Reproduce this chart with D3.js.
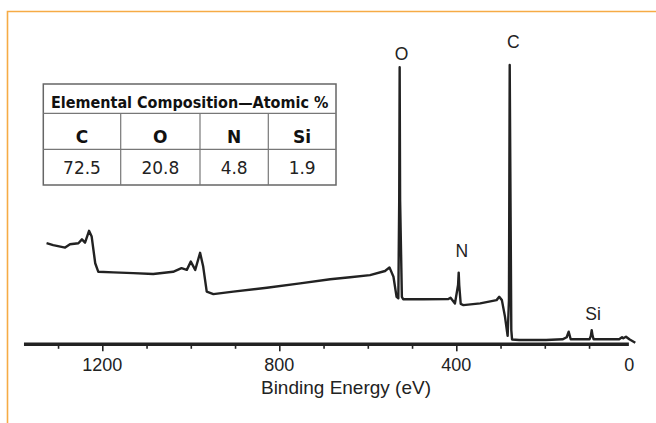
<!DOCTYPE html>
<html>
<head>
<meta charset="utf-8">
<script src="https://cdn.jsdelivr.net/npm/d3@7"></script>
<style>
  html, body { margin: 0; padding: 0; background: #fff; }
  svg { display: block; }
</style>
</head>
<body>
<svg id="chart" width="656" height="423"></svg>
<script>
// --- DATA ---
// survey spectrum (binding energy in eV, intensity in arbitrary units)
const bindingEnergy = [1326, 1311, 1284, 1273, 1254, 1246, 1239, 1230, 1224, 1216, 1209, 1175, 1130, 1085, 1040, 1021, 1009, 1000, 990, 979, 972, 964, 949, 904, 828, 753, 685, 640, 595, 561, 551, 542, 535, 531, 529, 528, 527, 523, 520, 475, 418, 413, 403, 396, 394.6, 393.4, 390, 384, 346, 309, 303, 297, 290, 284, 281, 279.3, 277.5, 275.7, 274, 258, 197, 160, 150.5, 146, 141.5, 99, 96, 94, 92, 89.5, 32, 25.5, 22.6, 16.5, 9, -4.5];
const intensity = [35.2, 34.5, 33.6, 34.8, 35.2, 36.6, 35.4, 39.7, 37.6, 27.9, 24.8, 24.6, 24.3, 24.0, 24.8, 26.1, 25.5, 28.5, 25.5, 31.7, 26.7, 17.6, 16.7, 17.6, 19.0, 20.6, 22.1, 22.8, 23.6, 25.1, 26.4, 23.0, 15.7, 15.2, 50.9, 99.2, 50.9, 15.7, 14.8, 14.8, 14.9, 15.4, 13.3, 20, 24.5, 20, 13.1, 12.7, 13.3, 14.5, 15.7, 14.5, 8.5, 1.5, 14.5, 100, 50.9, 3.6, 0.2, 0, 0, 0.25, 1.0, 3.0, 0.25, 0.25, 1.5, 3.6, 1.5, 0.25, 0.25, 1.0, 0.6, 1.2, 0.25, -1];

// peak labels
const peakNames = ["O", "C", "N", "Si"];
const peakLabelEnergy = [523.5, 271.2, 387.8, 91];
const peakLabelIntensity = [101.8, 106.1, 30.3, 7.3];

// axis
const axisExtent = [1377, 10];
const tickValues = [1300, 1200, 1100, 1000, 900, 800, 700, 600, 500, 400, 300, 200, 100];
const labelledTicks = [1200, 800, 400, 0];
const xTitle = "Binding Energy (eV)";

// composition table
const tableTitle = "Elemental Composition\u2014Atomic %";
const elements = ["C", "O", "N", "Si"];
const atomicPercent = [72.5, 20.8, 4.8, 1.9];

// --- LAYOUT ---
const W = 656, H = 423;
const sansFont = "'Liberation Sans', Arial, Helvetica, sans-serif";
const tableFont = "'DejaVu Sans Condensed', 'DejaVu Sans', sans-serif";
const lineColor = "#222";

const svg = d3.select("#chart");

// orange frame (top + left edges)
svg.append("path")
    .attr("d", `M7.5,${H}V11.5H${W}`)
    .attr("fill", "none")
    .attr("stroke", "#f6ab45")
    .attr("stroke-width", 1.6);

const x = d3.scaleLinear().domain([1200, 0]).range([102.3, 633.3]);
const y = d3.scaleLinear().domain([0, 100]).range([340, 65]);
const axisY = 344.3;

// spectrum line
const spectrum = bindingEnergy.map((e, i) => ({ e, v: intensity[i] }));
const line = d3.line()
    .x(d => x(d.e))
    .y(d => y(d.v));

svg.append("path")
    .datum(spectrum)
    .attr("fill", "none")
    .attr("stroke", lineColor)
    .attr("stroke-width", 2.4)
    .attr("stroke-linejoin", "round")
    .attr("d", line);

// x axis
const axisG = svg.append("g")
    .attr("transform", `translate(0,${axisY})`);

axisG.call(d3.axisBottom(x).tickValues(tickValues).tickFormat(""))
    .call(g => g.select(".domain").remove())
    .call(g => g.selectAll(".tick line")
        .attr("stroke", lineColor)
        .attr("stroke-width", 1.6)
        .attr("y2", d => labelledTicks.includes(d) ? 7 : 4.5));

axisG.append("line")
    .attr("x1", x(axisExtent[0]))
    .attr("x2", x(axisExtent[1]))
    .attr("stroke", lineColor)
    .attr("stroke-width", 3.5);

axisG.selectAll(".tick-label")
    .data(labelledTicks)
    .join("text")
    .attr("class", "tick-label")
    .attr("x", d => x(d) - (d === 0 ? 4 : 0))
    .attr("y", 26.4)
    .attr("text-anchor", "middle")
    .attr("font-family", sansFont)
    .attr("font-size", 18)
    .attr("fill", "#222")
    .text(d => d);

svg.append("text")
    .attr("x", 346)
    .attr("y", 394)
    .attr("text-anchor", "middle")
    .attr("font-family", sansFont)
    .attr("font-size", 19)
    .attr("fill", "#222")
    .text(xTitle);

// peak labels
svg.append("g")
    .selectAll("text")
    .data(peakNames)
    .join("text")
    .attr("x", (d, i) => x(peakLabelEnergy[i]))
    .attr("y", (d, i) => y(peakLabelIntensity[i]))
    .attr("text-anchor", "middle")
    .attr("font-family", sansFont)
    .attr("font-size", 17.5)
    .attr("fill", "#222")
    .text(d => d);

// --- TABLE ---
const tLeft = 43.3, tRight = 336, tTop = 84, tBottom = 185;
const rowEdges = [tTop, 113.3, 149.3, tBottom];
const colWeights = [77.4, 79.3, 68.3, 67.7];
const colEdges = [0];
colWeights.forEach(w => colEdges.push(colEdges.at(-1) + w));
const cx = d3.scaleLinear().domain([0, colEdges.at(-1)]).range([tLeft, tRight]);

const table = svg.append("g");

table.append("rect")
    .attr("x", tLeft).attr("y", tTop)
    .attr("width", tRight - tLeft).attr("height", tBottom - tTop)
    .attr("fill", "#fff")
    .attr("stroke", "#666")
    .attr("stroke-width", 1.5);

table.selectAll(".hline")
    .data(rowEdges.slice(1, -1))
    .join("line")
    .attr("class", "hline")
    .attr("x1", tLeft).attr("x2", tRight)
    .attr("y1", d => d).attr("y2", d => d)
    .attr("stroke", "#777")
    .attr("stroke-width", 1.2);

table.selectAll(".vline")
    .data(colEdges.slice(1, -1))
    .join("line")
    .attr("class", "vline")
    .attr("x1", d => cx(d)).attr("x2", d => cx(d))
    .attr("y1", rowEdges[1]).attr("y2", tBottom)
    .attr("stroke", "#777")
    .attr("stroke-width", 1.2);

table.append("text")
    .attr("x", (tLeft + tRight) / 2)
    .attr("y", 107.7)
    .attr("text-anchor", "middle")
    .attr("font-family", tableFont)
    .attr("font-weight", "bold")
    .attr("font-size", 16)
    .attr("fill", "#111")
    .text(tableTitle);

const colCenter = i => cx((colEdges[i] + colEdges[i + 1]) / 2);

table.selectAll(".el")
    .data(elements)
    .join("text")
    .attr("class", "el")
    .attr("x", (d, i) => colCenter(i))
    .attr("y", 143.3)
    .attr("text-anchor", "middle")
    .attr("font-family", "'DejaVu Sans', sans-serif")
    .attr("font-weight", "bold")
    .attr("font-size", 17)
    .attr("fill", "#111")
    .text(d => d);

table.selectAll(".val")
    .data(atomicPercent)
    .join("text")
    .attr("class", "val")
    .attr("x", (d, i) => colCenter(i))
    .attr("y", 174.3)
    .attr("text-anchor", "middle")
    .attr("font-family", "'DejaVu Sans', sans-serif")
    .attr("font-size", 17)
    .attr("fill", "#222")
    .text(d => d.toFixed(1));
</script>
</body>
</html>
